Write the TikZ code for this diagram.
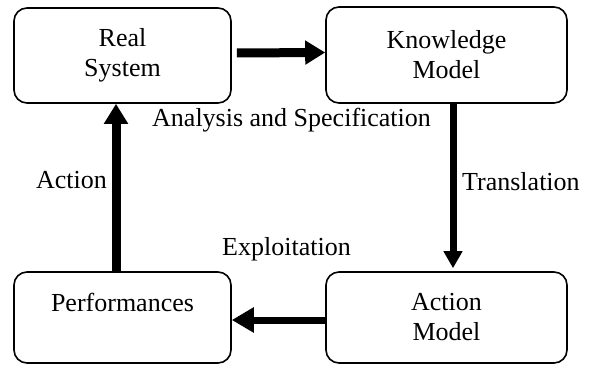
\documentclass[tikz,border=0pt]{standalone}
\usepackage{fontspec}
\setmainfont{Liberation Serif}
\usetikzlibrary{arrows.meta}
\begin{document}
\begin{tikzpicture}[x=1pt,y=1pt,
  box/.style={draw, line width=1.6pt, rounded corners=13pt, inner sep=0pt,
    align=center, font=\fontsize{26}{30}\selectfont},
  lbl/.style={inner sep=0pt, font=\fontsize{26}{30}\selectfont},
  bigarrow/.style={line width=9pt, -{Triangle[length=20pt,width=23pt]}},
  midarrow/.style={line width=7pt, -{Triangle[length=22pt,width=24pt]}},
  smallarrow/.style={line width=7pt, -{Triangle[length=17pt,width=18pt]}}]
\useasboundingbox (0,0) rectangle (594,-365);
\node[box, minimum width=217pt, minimum height=95pt] (real) at (122.5,-55.5) {Real\\System};
\node[box, minimum width=241pt, minimum height=96pt] (know) at (446.5,-55) {Knowledge\\Model};
\node[box, minimum width=217pt, minimum height=91pt] (perf) at (122.5,-317.5) {Performances\\\phantom{Model}};
\node[box, minimum width=241pt, minimum height=91pt] (act) at (446.5,-317.5) {Action\\Model};
\draw[bigarrow, shorten <=5pt] ([yshift=2.5pt]real.east) -- ([yshift=2.5pt]know.west);
\draw[smallarrow, shorten >=3pt] ([xshift=6.5pt]know.south) -- ([xshift=6.5pt]act.north);
\draw[midarrow] ([yshift=-2.5pt]act.west) -- ([yshift=-2.5pt]perf.east);
\draw[bigarrow] ([xshift=-6.5pt]perf.north) -- ([xshift=-6.5pt]real.south);
\node[lbl, anchor=base west] (anl) at (152,-126) {Analysis and Specification};
\node[lbl, anchor=base east] (actl) at (107,-188) {Action};
\node[lbl, anchor=base west] (trl) at (462,-190) {Translation};
\node[lbl, anchor=base west] (expl) at (222,-255) {Exploitation};
\end{tikzpicture}
\end{document}
